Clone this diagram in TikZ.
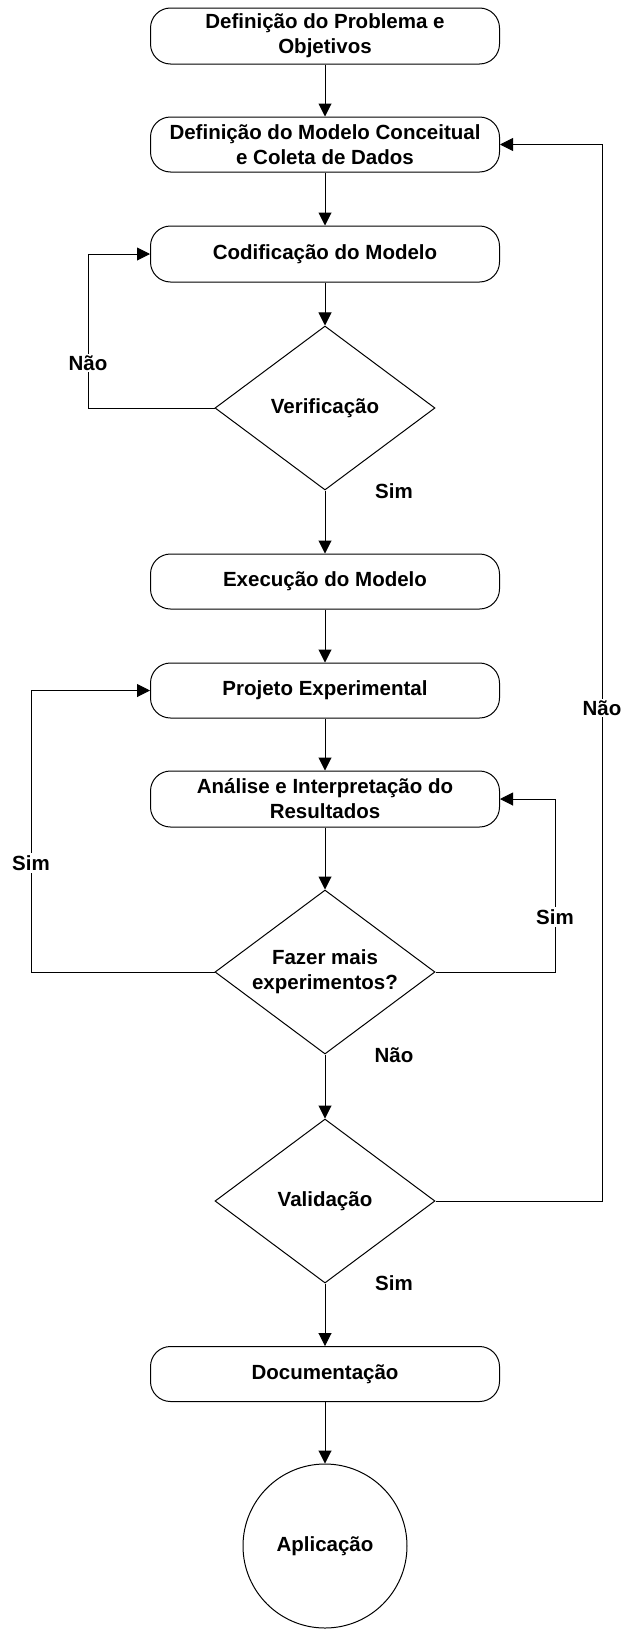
\documentclass[tikz,border=0pt]{standalone}
\usepackage{fontspec}
\setmainfont{Liberation Sans}
\usetikzlibrary{shapes.geometric,arrows.meta}
\tikzset{
  box/.style={draw, line width=1pt, rounded corners=20pt, minimum width=349pt, minimum height=55pt, inner sep=0pt, align=center},
  dec/.style={draw, line width=1pt, diamond, shape aspect=1.34, minimum width=220pt, minimum height=164pt, inner sep=0pt, align=center},
  term/.style={draw, line width=1pt, circle, minimum size=164pt, inner sep=0pt, align=center},
  arr/.style={line width=1pt, -{Triangle[length=13pt,width=13pt]}},
  ln/.style={line width=1pt},
  lbl/.style={fill=white, inner sep=2pt}
}
\begin{document}
\begin{tikzpicture}[x=1pt,y=-1pt, font=\fontsize{20.5}{25}\selectfont\bfseries]
\useasboundingbox (0,0) rectangle (626,1630);
\node[box, minimum height=56pt] (b1) at (325,36) {Definição do Problema e\\Objetivos};
\node[box] (b2) at (325,144.5) {Definição do Modelo Conceitual\\e Coleta de Dados};
\node[box, minimum height=56pt] (b3) at (325,254) {Codificação do Modelo};
\node[dec] (d1) at (325,408) {Verificação};
\node[box] (e) at (325,581.5) {Execução do Modelo};
\node[box] (p) at (325,690.5) {Projeto Experimental};
\node[box, minimum height=56pt] (a) at (325,799) {Análise e Interpretação do\\Resultados};
\node[dec] (d2) at (325,972) {Fazer mais\\experimentos?};
\node[dec] (d3) at (325,1201) {Validação};
\node[box] (doc) at (325,1374) {Documentação};
\node[term] (ap) at (325,1546) {Aplicação};

\coordinate (c1) at (88,408);
\coordinate (c2) at (31,972);
\coordinate (c3) at (555,972);
\coordinate (c4) at (602,1201);

\draw[arr] (b1) -- (b2);
\draw[arr] (b2) -- (b3);
\draw[arr] (b3) -- (d1);
\draw[arr] (d1) -- (e);
\draw[arr] (e) -- (p);
\draw[arr] (p) -- (a);
\draw[arr] (a) -- (d2);
\draw[arr] (d2) -- (d3);
\draw[arr] (d3) -- (doc);
\draw[arr] (doc) -- (ap);

\draw[arr] (d1.west) -- (c1) |- (b3.west);
\draw[arr] (d2.west) -- (c2) |- (p.west);
\draw[arr] (d2.east) -- (c3) |- (a.east);
\draw[arr] (d3.east) -- (c4) |- (b2.east);

\node[lbl] (l1) at (88,363) {Não};
\node (l2) at (394,491) {Sim};
\node[lbl] (l3) at (602,708) {Não};
\node[lbl] (l4) at (31,863) {Sim};
\node[lbl] (l5) at (555,917) {Sim};
\node (l6) at (394,1055) {Não};
\node (l7) at (394,1283) {Sim};
\end{tikzpicture}
\end{document}
